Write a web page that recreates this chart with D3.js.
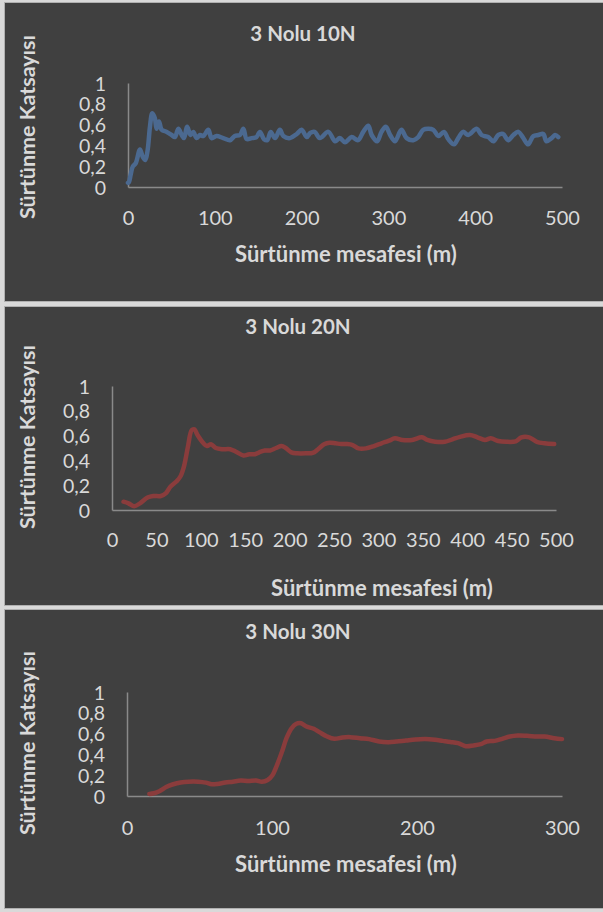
<!DOCTYPE html>
<html>
<head>
<meta charset="utf-8">
<script src="https://cdn.jsdelivr.net/npm/d3@7"></script>
<style>
  html, body { margin: 0; padding: 0; background: #d9d9d9; }
  svg { display: block; }
  text { font-family: Lato, "Noto Sans", sans-serif; fill: #d9d9d9; }
</style>
</head>
<body>
<svg id="chart" width="603" height="912"></svg>
<script>
// Friction coefficient vs sliding distance, sample no. 3 under three loads.

// 10 N
const dist10 = [0, 1.2, 3, 5.4, 9, 13.8, 17, 20, 22.7, 25.3, 28, 31, 32.9, 35.7, 38.8, 44.6, 50.3, 54, 58, 61.9,
  64.5, 68.2, 72, 75.2, 79, 83, 86.8, 92.5, 96.4, 102, 109.8, 117.5, 123, 129, 132.9, 136.8, 142.4, 148, 152, 156.7,
  160.5, 164.4, 169.4, 175, 179, 186.6, 194.4, 200, 206, 210, 215, 221, 230.8, 238.5, 244, 250, 257.7, 265,
  271, 276.8, 280.7, 287, 292, 297, 302, 307.6, 315, 321, 328.7, 334.4, 340, 346, 351.8, 357.5, 364, 369, 375.6,
  380.5, 386, 392, 401.7, 407.4, 415, 421, 426.6, 432, 438, 444, 449.7, 455.5, 461, 467, 472.7, 478.5, 482, 488,
  492, 495.7];
const cof10 = [0.04, 0.05, 0.115, 0.195, 0.23, 0.36, 0.29, 0.26, 0.36, 0.58, 0.71, 0.66, 0.56, 0.63, 0.55, 0.53, 0.5,
  0.48, 0.56, 0.5, 0.47, 0.58, 0.5, 0.53, 0.47, 0.5, 0.49, 0.55, 0.47, 0.49, 0.47, 0.45, 0.49, 0.5, 0.56, 0.46,
  0.47, 0.48, 0.53, 0.46, 0.45, 0.53, 0.47, 0.55, 0.49, 0.47, 0.51, 0.55, 0.48, 0.52, 0.53, 0.47, 0.53, 0.44, 0.47,
  0.43, 0.48, 0.45, 0.53, 0.59, 0.5, 0.44, 0.53, 0.58, 0.5, 0.44, 0.55, 0.47, 0.45, 0.48, 0.55, 0.56, 0.55, 0.49,
  0.53, 0.46, 0.41, 0.47, 0.53, 0.5, 0.56, 0.5, 0.48, 0.44, 0.5, 0.51, 0.45, 0.5, 0.53, 0.47, 0.41, 0.49, 0.5,
  0.51, 0.44, 0.47, 0.5, 0.48];

// 20 N
const dist20 = [13, 18.6, 25, 31.5, 40, 46.6, 55, 60.5, 66, 72.5, 77, 81, 85.5, 89.8, 92.8, 96.3, 102.8, 107, 111.4,
  117, 124, 133, 139.5, 148, 154.6, 161, 167.5, 172, 178, 184.8, 191, 195.6, 202, 208.5, 219, 226, 232, 238.8,
  245, 251.7, 258, 264.7, 271, 277.6, 286, 295, 303.5, 312, 318.6, 327, 338, 349, 355, 364, 374.8, 383.4, 392,
  403, 411.5, 420, 426.6, 435, 444, 454.6, 461, 469.8, 478.4, 487, 498];
const cof20 = [0.067, 0.054, 0.03, 0.054, 0.1, 0.113, 0.113, 0.134, 0.19, 0.23, 0.27, 0.35, 0.51, 0.645, 0.65, 0.605,
  0.54, 0.516, 0.53, 0.5, 0.49, 0.49, 0.47, 0.44, 0.45, 0.45, 0.47, 0.48, 0.48, 0.5, 0.516, 0.5, 0.465, 0.457,
  0.457, 0.46, 0.49, 0.53, 0.543, 0.538, 0.532, 0.532, 0.524, 0.497, 0.497, 0.516, 0.538, 0.559, 0.578, 0.565,
  0.565, 0.586, 0.565, 0.55, 0.55, 0.57, 0.59, 0.605, 0.586, 0.565, 0.578, 0.556, 0.55, 0.554, 0.586, 0.586,
  0.55, 0.538, 0.532];

// 30 N
const dist30 = [15.4, 18.6, 22.6, 27, 31.9, 37, 42.5, 49, 54.4, 58.4, 62.4, 67.7, 73, 78.3, 83.6, 89, 93, 97, 100.3,
  103.5, 107, 110, 113.6, 116.8, 120, 123.4, 128.8, 132.7, 138, 143, 148.7, 154, 160.6, 167, 173.9, 180.5, 185.8,
  192.5, 199, 205.7, 212.4, 217.7, 223, 228.3, 233.6, 239, 244, 248, 253.5, 258.8, 264, 269.4, 276, 282.7, 288,
  294.7, 300];
const cof30 = [0.02, 0.026, 0.048, 0.087, 0.113, 0.13, 0.138, 0.138, 0.129, 0.113, 0.116, 0.13, 0.138, 0.148, 0.145,
  0.15, 0.138, 0.154, 0.2, 0.3, 0.43, 0.556, 0.653, 0.695, 0.7, 0.67, 0.646, 0.614, 0.572, 0.55, 0.563, 0.566,
  0.556, 0.547, 0.524, 0.518, 0.524, 0.534, 0.543, 0.547, 0.54, 0.53, 0.52, 0.508, 0.479, 0.486, 0.498, 0.524,
  0.53, 0.55, 0.572, 0.582, 0.579, 0.572, 0.572, 0.556, 0.547];

const yTicks = [0, 0.2, 0.4, 0.6, 0.8, 1];
const xTicks10 = [0, 100, 200, 300, 400, 500];
const xTicks20 = [0, 50, 100, 150, 200, 250, 300, 350, 400, 450, 500];
const xTicks30 = [0, 100, 200, 300];

const titles = ["3 Nolu 10N", "3 Nolu 20N", "3 Nolu 30N"];
const xTitle = "Sürtünme mesafesi (m)";
const yTitle = "Sürtünme Katsayısı";

const svg = d3.select("#chart");
const fmt = d => String(d).replace(".", ",");

const panels = [
  { top: 2, title: titles[0], dist: dist10, cof: cof10, xMax: 500, xTicks: xTicks10, color: "#4b6990",
    px0: 128, px1: 562, py0: 187, py1: 83, titleX: 303, titleY: 41, xLabY: 225, xTitleX: 346, xTitleY: 262, yTitleX: 35, yTitleY: 127 },
  { top: 306, title: titles[1], dist: dist20, cof: cof20, xMax: 500, xTicks: xTicks20, color: "#8a3c3c",
    px0: 112, px1: 556, py0: 510, py1: 386, titleX: 298, titleY: 334, xLabY: 547, xTitleX: 382, xTitleY: 596, yTitleX: 35, yTitleY: 437 },
  { top: 609, title: titles[2], dist: dist30, cof: cof30, xMax: 300, xTicks: xTicks30, color: "#8a3c3c",
    px0: 127, px1: 562, py0: 796, py1: 692, titleX: 298, titleY: 639, xLabY: 835, xTitleX: 346, xTitleY: 872, yTitleX: 35, yTitleY: 743 }
];

panels.forEach(p => {
  const g = svg.append("g");
  g.append("rect")
    .attr("x", 4.5).attr("y", p.top + 0.5)
    .attr("width", 610).attr("height", 299)
    .attr("fill", "#404040").attr("stroke", "#b0b0b0").attr("stroke-width", 1);

  const x = d3.scaleLinear().domain([0, p.xMax]).range([p.px0, p.px1]);
  const y = d3.scaleLinear().domain([0, 1]).range([p.py0, p.py1]);

  // y axis labels and line
  const yAxis = g.append("g").attr("transform", `translate(${p.px0},0)`)
    .call(d3.axisLeft(y).tickValues(yTicks).tickFormat(fmt).tickSize(0).tickPadding(22));
  yAxis.select(".domain").attr("stroke", "#8a8a8a").attr("stroke-width", 1.5);
  yAxis.selectAll("text").attr("fill", "#d9d9d9").style("font-size", "19.5px").attr("dy", "0.36em");

  // x axis labels and line
  const xAxis = g.append("g").attr("transform", `translate(0,${p.py0})`)
    .call(d3.axisBottom(x).tickValues(p.xTicks).tickSize(0).tickPadding(0));
  xAxis.select(".domain").attr("stroke", "#8a8a8a").attr("stroke-width", 1.5);
  xAxis.selectAll("text").attr("fill", "#d9d9d9").style("font-size", "20px")
    .attr("y", p.xLabY - p.py0).attr("dy", 0);

  // series
  const pts = p.dist.map((d, i) => [d, p.cof[i]]);
  g.append("path").datum(pts)
    .attr("fill", "none").attr("stroke", p.color).attr("stroke-width", 4.5)
    .attr("stroke-linejoin", "round").attr("stroke-linecap", "round")
    .attr("d", d3.line().x(d => x(d[0])).y(d => y(d[1])).curve(d3.curveCatmullRom));

  g.append("text").attr("x", p.titleX).attr("y", p.titleY)
    .attr("text-anchor", "middle").style("font-size", "20.5px").style("font-weight", "bold").text(p.title);
  g.append("text").attr("x", p.xTitleX).attr("y", p.xTitleY)
    .attr("text-anchor", "middle").style("font-size", "22px").style("font-weight", "bold").text(xTitle);
  g.append("text").attr("transform", `translate(${p.yTitleX},${p.yTitleY}) rotate(-90)`)
    .attr("text-anchor", "middle").style("font-size", "21.5px").style("font-weight", "bold").text(yTitle);
});
</script>
</body>
</html>
